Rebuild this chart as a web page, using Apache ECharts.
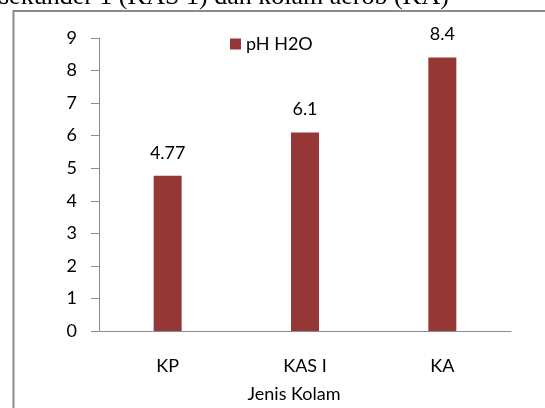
<!DOCTYPE html>
<html>
<head>
<meta charset="utf-8">
<script src="https://cdn.jsdelivr.net/npm/echarts@6/dist/echarts.min.js"></script>
<style>
  html, body { margin: 0; padding: 0; background: #fff; }
  #chart { width: 545px; height: 408px; }
</style>
</head>
<body>
<div id="chart"></div>
<script>
// data
var kolam = ['KP', 'KAS I', 'KA'];
var phH2O = [4.77, 6.1, 8.4];
var phLabels = ['4.77', '6.1', '8.4'];

var chart = echarts.init(document.getElementById('chart'));

var axisGray = '#8c8c8c';
var font = 'Lato';

chart.setOption({
    animation: false,
    textStyle: { fontFamily: font },
    graphic: [
        // caption line from the document, cut at the top
        {
            type: 'text',
            left: -1,
            top: -16,
            style: {
                text: 'sekunder 1 (KAS 1) dan kolam aerob (KA)',
                font: '26px "Liberation Serif"',
                fill: '#000'
            }
        },
        // frame of the chart box
        {
            type: 'rect',
            shape: { x: 13.5, y: 11, width: 700, height: 600 },
            style: { fill: 'none', stroke: '#8a8a8a', lineWidth: 2 }
        }
    ],
    legend: {
        left: 225,
        top: 30,
        icon: 'rect',
        itemWidth: 11,
        itemHeight: 11,
        itemGap: 10,
        textStyle: { fontFamily: font, fontSize: 18, color: '#000' },
        data: ['pH H2O']
    },
    grid: { left: 99, right: 34, top: 38, bottom: 77 },
    xAxis: {
        type: 'category',
        data: kolam,
        name: 'Jenis Kolam',
        nameLocation: 'middle',
        nameGap: 54,
        nameTextStyle: { fontFamily: font, fontSize: 18, color: '#000', padding: [0, 22, 0, 0], verticalAlign: 'top' },
        axisLine: { lineStyle: { color: axisGray, width: 1 } },
        axisTick: { alignWithLabel: false, length: 7, lineStyle: { color: axisGray } },
        axisLabel: { margin: 26, fontFamily: font, fontSize: 18, color: '#000' }
    },
    yAxis: {
        type: 'value',
        min: 0,
        max: 9,
        interval: 1,
        splitLine: { show: false },
        axisLine: { show: true, lineStyle: { color: axisGray, width: 1 } },
        axisTick: { show: true, length: 8, lineStyle: { color: axisGray } },
        axisLabel: { margin: 22, fontFamily: font, fontSize: 18, color: '#000' }
    },
    series: [{
        name: 'pH H2O',
        type: 'bar',
        data: phH2O,
        barWidth: 28,
        itemStyle: { color: '#953735' },
        label: {
            show: true,
            position: 'top',
            distance: 14,
            fontFamily: font,
            fontSize: 18,
            color: '#000',
            formatter: function (p) { return phLabels[p.dataIndex]; }
        }
    }]
});
</script>
</body>
</html>
